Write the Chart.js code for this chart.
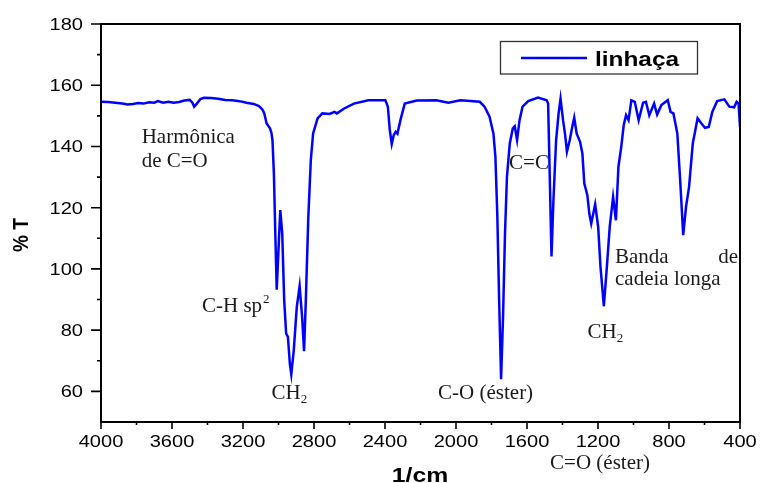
<!DOCTYPE html>
<html>
<head>
<meta charset="utf-8">
<script src="https://cdn.jsdelivr.net/npm/chart.js@4.4.1/dist/chart.umd.min.js"></script>
<style>
html,body{margin:0;padding:0;background:#fff;}
#wrap{width:760px;height:483px;position:relative;}
</style>
</head>
<body>
<div id="wrap"><canvas id="c" width="760" height="483"></canvas></div>
<script>
// ---- data ----
const seriesLabel = 'linhaça';
const wavenumber = [4000,3960,3920,3880,3850,3820,3790,3760,3730,3700,3680,3650,3620,3590,3560,3530,3500,3485,3475,3460,3440,3420,3380,3340,3300,3260,3220,3180,3140,3110,3090,3080,3067,3048,3040,3034,3026,3018,3010,3001,2990,2979,2968,2957,2947,2936,2928,2914,2897,2881,2867,2856,2846,2832,2818,2805,2780,2753,2712,2685,2671,2630,2575,2494,2398,2384,2373,2362,2351,2340,2330,2313,2289,2221,2111,2043,1975,1866,1839,1811,1789,1778,1767,1757,1746,1735,1724,1713,1697,1680,1669,1656,1642,1625,1593,1538,1489,1481,1473,1462,1451,1436,1422,1411,1397,1386,1375,1359,1345,1334,1320,1301,1288,1277,1260,1249,1238,1216,1199,1186,1167,1150,1134,1115,1099,1085,1069,1055,1042,1028,1012,993,971,946,930,911,884,867,843,807,791,775,753,736,720,704,687,666,639,617,597,576,556,529,488,460,433,419,408,400];
const transmittance = [154.6,154.5,154.3,154.0,153.7,153.9,154.2,154.0,154.4,154.3,154.8,154.3,154.6,154.3,154.5,155.0,155.2,154.3,153.0,154.0,155.5,155.9,155.8,155.6,155.2,155.1,154.8,154.3,153.9,153.2,152.0,150.8,147.5,145.9,144.5,142.1,131.2,111.6,93.2,105.0,119.2,111.6,89.8,78.9,77.8,69.0,65.6,73.4,87.6,94.4,84.3,73.1,89.8,117.0,135.5,144.2,149.2,150.8,150.6,151.3,150.8,152.4,154.0,155.1,155.1,153.0,145.3,140.8,143.7,144.8,144.2,148.6,154.0,155.0,155.1,154.3,155.1,154.6,153.0,149.7,144.2,136.6,117.0,89.8,64.0,84.3,111.6,130.1,141.0,145.9,146.6,142.1,148.6,153.0,154.8,156.0,155.1,154.0,133.3,104.1,122.5,142.1,150.8,155.6,148.6,144.2,138.3,142.1,146.4,149.4,144.2,141.5,137.7,127.9,124.1,118.1,114.8,121.1,113.7,100.7,87.8,100.7,113.7,123.5,115.9,133.3,139.9,147.0,150.2,148.6,155.1,154.6,148.6,154.3,154.6,150.2,154.0,150.4,153.5,155.1,151.3,150.8,144.2,127.9,111.0,120.3,126.8,141.0,149.2,147.5,146.1,146.4,151.3,154.8,155.4,153.0,152.8,154.6,154.0,146.4];
const xTickLabels = [4000,3600,3200,2800,2400,2000,1600,1200,800,400];
const xMinorTicks = [3800,3400,3000,2600,2200,1800,1400,1000,600];
const yTickLabels = [60,80,100,120,140,160,180];
const yMinorTicks = [70,90,110,130,150,170];
const xTitle = '1/cm';
const yTitle = '% T';
// annotation texts placed at (wavenumber, %T) of their baseline-left corner
const annotations = [
  {t:'Harmônica', x:3771, y:141.1},
  {t:'de C=O', x:3771, y:133.3},
  {t:'C-H sp', sup:'2', x:3431, y:85.9},
  {t:'CH', sub:'2', x:3039, y:57.4},
  {t:'C-O (éster)', x:2101, y:57.5},
  {t:'C=C', x:1701, y:132.6},
  {t:'Banda', x:1104, y:102.0},
  {t:'de', x:411, y:102.0, align:'right'},
  {t:'cadeia longa', x:1104, y:94.8},
  {t:'CH', sub:'2', x:1259, y:77.4},
  {t:'C=O (éster)', x:1470, y:34.7}
];

const points = wavenumber.map((w,i)=>({x:w,y:transmittance[i]}));
const HS = 1.18; // horizontal stretch of sans texts

function sText(ctx, txt, x, y, sx, align){
  ctx.save(); ctx.translate(x,y); ctx.scale(sx,1);
  ctx.textAlign = align; ctx.fillText(txt,0,0); ctx.restore();
}

const decor = {
  id:'decor',
  afterDraw(chart){
    const ctx = chart.ctx, a = chart.chartArea;
    const xs = chart.scales.x, ys = chart.scales.y;
    ctx.save();
    ctx.strokeStyle = '#000'; ctx.lineWidth = 2;
    ctx.strokeRect(a.left, a.top, a.right-a.left, a.bottom-a.top);
    ctx.lineWidth = 1.6;
    ctx.beginPath();
    yTickLabels.forEach(v=>{const p=ys.getPixelForValue(v); ctx.moveTo(a.left-10,p); ctx.lineTo(a.left,p);});
    yMinorTicks.forEach(v=>{const p=ys.getPixelForValue(v); ctx.moveTo(a.left-4,p); ctx.lineTo(a.left,p);});
    xTickLabels.forEach(v=>{const p=xs.getPixelForValue(v); ctx.moveTo(p,a.bottom); ctx.lineTo(p,a.bottom+7);});
    xMinorTicks.forEach(v=>{const p=xs.getPixelForValue(v); ctx.moveTo(p,a.bottom); ctx.lineTo(p,a.bottom+3);});
    ctx.stroke();
    // tick labels
    ctx.fillStyle = '#000';
    ctx.font = '17px "Liberation Sans", Arial, sans-serif';
    ctx.textBaseline = 'alphabetic';
    yTickLabels.forEach(v=>{const p=ys.getPixelForValue(v); sText(ctx, String(v), a.left-18, p+6, HS, 'right');});
    xTickLabels.forEach(v=>{const p=xs.getPixelForValue(v); sText(ctx, String(v), p, a.bottom+25, HS, 'center');});
    // titles
    ctx.font = 'bold 21px "Liberation Sans", Arial, sans-serif';
    sText(ctx, xTitle, 420, 482, HS, 'center');
    ctx.save();
    ctx.translate(22, 235); ctx.rotate(-Math.PI/2); ctx.scale(1, HS);
    ctx.font = 'bold 19px "Liberation Sans", Arial, sans-serif';
    ctx.textAlign = 'center'; ctx.textBaseline = 'middle';
    ctx.fillText(yTitle, 0, 0);
    ctx.restore();
    // legend
    ctx.strokeStyle = '#333'; ctx.lineWidth = 1.3;
    ctx.strokeRect(500.5, 41.5, 197, 32.5);
    ctx.strokeStyle = chart.data.datasets[0].borderColor; ctx.lineWidth = 2.5;
    ctx.beginPath(); ctx.moveTo(521, 58); ctx.lineTo(587, 58); ctx.stroke();
    ctx.fillStyle = '#000';
    ctx.font = 'bold 20px "Liberation Sans", Arial, sans-serif';
    sText(ctx, chart.data.datasets[0].label, 595, 65.5, 1.22, 'left');
    // annotations
    ctx.fillStyle = '#1a1a1a';
    annotations.forEach(an=>{
      const px = xs.getPixelForValue(an.x), py = ys.getPixelForValue(an.y);
      ctx.font = '21px "Liberation Serif", "Times New Roman", serif';
      ctx.textAlign = an.align || 'left';
      ctx.fillText(an.t, px, py);
      const w = ctx.measureText(an.t).width;
      if (an.sup){ ctx.font = '13px "Liberation Serif", serif'; ctx.textAlign='left'; ctx.fillText(an.sup, px+w+1, py-9); }
      if (an.sub){ ctx.font = '13px "Liberation Serif", serif'; ctx.textAlign='left'; ctx.fillText(an.sub, px+w, py+4); }
    });
    ctx.restore();
  }
};

new Chart(document.getElementById('c'), {
  type:'line',
  data:{datasets:[{label:seriesLabel, data:points, borderColor:'#0000ff', borderWidth:2.5, pointRadius:0, tension:0, fill:false}]},
  options:{
    responsive:false, animation:false, devicePixelRatio:1,
    layout:{padding:{left:101, right:20, top:24, bottom:61}},
    plugins:{legend:{display:false}, tooltip:{enabled:false}},
    scales:{
      x:{type:'linear', reverse:true, min:400, max:4000, display:false},
      y:{type:'linear', min:50, max:180, display:false}
    }
  },
  plugins:[decor]
});
</script>
</body>
</html>
